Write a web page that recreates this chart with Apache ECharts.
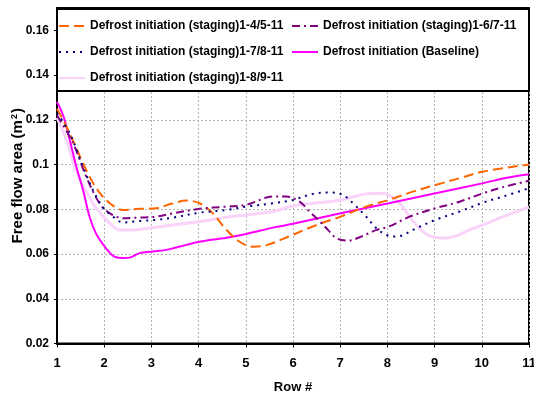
<!DOCTYPE html>
<html>
<head>
<meta charset="utf-8">
<script src="https://cdn.jsdelivr.net/npm/echarts@6/dist/echarts.min.js"></script>
<style>html,body{margin:0;padding:0;background:#fff}#c{width:534px;height:393px}</style>
</head>
<body>
<div id="c"></div>
<script>
var seriesNames = [
  'Defrost initiation (staging)1-4/5-11',
  'Defrost initiation (staging)1-6/7-11',
  'Defrost initiation (staging)1-7/8-11',
  'Defrost initiation (Baseline)',
  'Defrost initiation (staging)1-8/9-11'
];
var xTicks = [1,2,3,4,5,6,7,8,9,10,11];
var yTicks = [0.02,0.04,0.06,0.08,0.1,0.12,0.14,0.16];

var orangeRow = [1,1.2,1.48,1.69,1.9,2.12,2.4,2.75,3.1,3.46,3.74,4.02,4.3,4.59,4.87,5.15,5.44,5.93,6.5,7.01,7.55,8.03,8.54,9.02,9.53,10.03,11];
var orangeVal = [0.125,0.117,0.104,0.0946,0.0875,0.0827,0.0797,0.0802,0.0805,0.0827,0.0839,0.0827,0.0782,0.0708,0.0655,0.0633,0.064,0.068,0.073,0.0767,0.0812,0.0842,0.0879,0.0909,0.0939,0.0969,0.1];

var purpleRow = [1,1.34,1.62,1.9,2.12,2.4,2.75,3.1,3.46,4.02,4.59,5.01,5.58,5.86,6.14,6.35,6.57,6.74,6.92,7.17,7.41,7.77,8.03,8.47,9.02,9.53,10.03,10.45,11];
var purpleVal = [0.122,0.1096,0.0946,0.0827,0.0782,0.076,0.0763,0.0767,0.0782,0.0802,0.0812,0.082,0.0857,0.0857,0.0834,0.079,0.0745,0.0708,0.0671,0.066,0.0675,0.0708,0.0723,0.0767,0.0805,0.0834,0.0872,0.0899,0.0928];

var navyRow = [1,1.27,1.55,1.76,1.97,2.2,2.4,2.75,3.1,3.46,4.02,4.59,5.01,5.58,6.0,6.42,6.78,7.06,7.27,7.55,7.77,7.98,8.19,8.61,9.02,9.53,10.03,10.45,11];
var navyVal = [0.123,0.114,0.099,0.0887,0.081,0.0765,0.0741,0.0748,0.0753,0.0763,0.0785,0.0797,0.0812,0.0827,0.0842,0.0869,0.0875,0.0864,0.0827,0.0767,0.0715,0.0685,0.0678,0.0715,0.0753,0.079,0.083,0.0857,0.0894];

var baseRow = [1,1.13,1.27,1.41,1.55,1.69,1.83,1.97,2.1,2.22,2.4,2.54,2.75,3.03,3.39,3.74,4.02,4.59,5.01,5.58,6.0,7.01,8.03,9.02,10.03,10.5,11];
var baseVal = [0.128,0.122,0.111,0.099,0.0887,0.0767,0.069,0.0645,0.061,0.0588,0.0582,0.0584,0.0604,0.0611,0.0622,0.0641,0.0655,0.0673,0.069,0.0718,0.0735,0.0782,0.0827,0.0872,0.0917,0.094,0.0957];

var pinkRow = [1,1.2,1.41,1.76,2.05,2.33,2.61,3.03,3.46,4.02,4.59,5.01,5.58,6.0,7.01,7.55,7.84,8.03,8.26,8.47,8.68,8.9,9.18,9.46,9.74,10.03,10.45,11];
var pinkVal = [0.121,0.111,0.097,0.0827,0.0753,0.0708,0.0708,0.0718,0.073,0.0745,0.0765,0.0775,0.079,0.0815,0.0842,0.0869,0.0872,0.0864,0.0827,0.0767,0.0715,0.0681,0.0671,0.0681,0.0708,0.073,0.0767,0.081];

function pairs(xs, ys){ return xs.map(function(x,i){ return [x, ys[i]]; }); }

var FONT = '"Liberation Sans", Arial, sans-serif';
var chart = echarts.init(document.getElementById('c'), null, {renderer:'canvas'});

function mkSeries(name, xs, ys, color, width, type, z){
  return {
    name: name, type: 'line', data: pairs(xs, ys), symbol: 'none', smooth: 0.35,
    z: z,
    lineStyle: {color: color, width: width, type: type},
    itemStyle: {color: color}
  };
}

var legendCommon = {
  orient: 'vertical', itemWidth: 26, itemHeight: 14, z: 6, padding: 0,
  itemStyle: {opacity: 0},
  textStyle: {fontFamily: FONT, fontWeight: 'bold', fontSize: 12, color: '#000'}
};

var option = {
  animation: false,
  backgroundColor: '#fff',
  grid: {left: 57, right: 5, top: 8, bottom: 49.5, show: true, borderColor: '#000', borderWidth: 2,
    backgroundColor: 'transparent', outerBoundsMode: 'none', containLabel: false},
  xAxis: {
    type: 'value', min: 1, max: 11, interval: 1,
    name: 'Row #', nameLocation: 'middle', nameGap: 37,
    nameTextStyle: {fontFamily: FONT, fontWeight: 'bold', fontSize: 13, color: '#000'},
    axisLine: {lineStyle: {color: '#000', width: 2}},
    axisTick: {show: true, length: 4, lineStyle: {color: '#000', width: 1}},
    axisLabel: {fontFamily: FONT, fontWeight: 'bold', fontSize: 13, color: '#000', margin: 13},
    splitLine: {show: true, lineStyle: {color: '#b4b4b4', width: 1, type: [2,2]}}
  },
  yAxis: {
    type: 'value', min: 0.02, max: 0.17, interval: 0.02,
    name: '{a|Free flow area (m}{s|2}{a|)}', nameLocation: 'middle', nameGap: 31, nameMoveOverlap: false,
    nameTextStyle: {fontFamily: FONT, fontWeight: 'bold', fontSize: 15, color: '#000',
      rich: {
        a: {fontFamily: FONT, fontWeight: 'bold', fontSize: 15, color: '#000'},
        s: {fontFamily: FONT, fontWeight: 'bold', fontSize: 9, color: '#000', verticalAlign: 'top', padding: [0,1,7,1]}
      }},
    axisLine: {lineStyle: {color: '#000', width: 2}},
    axisTick: {show: true, length: 3, lineStyle: {color: '#000', width: 1}},
    axisLabel: {fontFamily: FONT, fontWeight: 'bold', fontSize: 12, color: '#000', margin: 8, showMaxLabel: false,
      formatter: function(v){ return yTicks.indexOf(+v.toFixed(2)) >= 0 ? String(+v.toFixed(2)) : ''; }},
    splitLine: {show: true, lineStyle: {color: '#b4b4b4', width: 1, type: [2,2]}}
  },
  graphic: [{
    type: 'rect', z: 3, silent: true,
    shape: {x: 57, y: 9, width: 472, height: 82},
    style: {fill: '#fff', stroke: '#000', lineWidth: 2}
  }],
  legend: [
    Object.assign({}, legendCommon, {left: 58, top: 20, itemGap: 14, data: [seriesNames[0], seriesNames[2], seriesNames[4]]}),
    Object.assign({}, legendCommon, {left: 291, top: 20, itemGap: 14, data: [seriesNames[1], seriesNames[3]]})
  ],
  series: [
    mkSeries(seriesNames[4], pinkRow, pinkVal, '#F9D3F9', 3, 'solid', 1),
    mkSeries(seriesNames[3], baseRow, baseVal, '#FF00FF', 2, 'solid', 2),
    mkSeries(seriesNames[0], orangeRow, orangeVal, '#FF6600', 2, [10,5], 2),
    mkSeries(seriesNames[1], purpleRow, purpleVal, '#800080', 2, [8,4,2,4], 2),
    mkSeries(seriesNames[2], navyRow, navyVal, '#000080', 2, [2,5], 2)
  ]
};
chart.setOption(option);
</script>
</body>
</html>
